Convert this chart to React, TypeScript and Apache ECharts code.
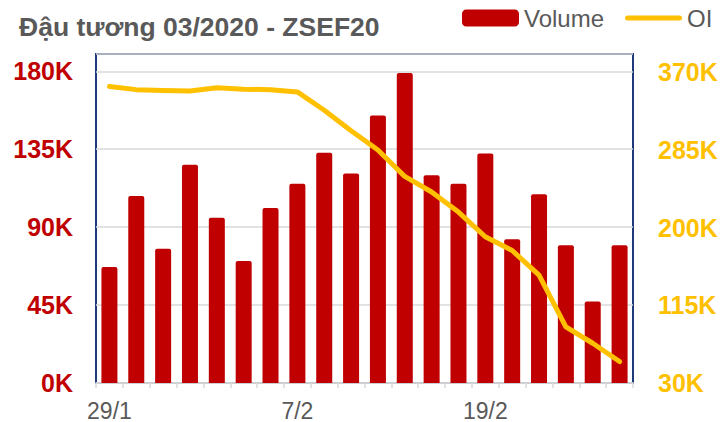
import React, { useEffect, useRef } from "react";
import * as echarts from "echarts";

const categories = [
  "29/1", "30/1", "31/1", "3/2", "4/2", "5/2", "6/2", "7/2", "10/2", "11/2",
  "12/2", "13/2", "14/2", "18/2", "19/2", "20/2", "21/2", "24/2", "25/2", "26/2",
];
const volume = [
  67000, 108000, 77500, 126000, 95500, 70500, 101000, 115000, 133000, 121000,
  154500, 179000, 120000, 115000, 132500, 83000, 109000, 79500, 47000, 79500,
];
const openInterest = [
  354500, 351000, 350000, 349500, 353000, 351500, 351000, 348500, 328500, 306000,
  285000, 256000, 239000, 217000, 190000, 175000, 148000, 91500, 73500, 53500,
];
const leftTicks = [0, 45000, 90000, 135000, 180000];
const rightTicks = [30000, 115000, 200000, 285000, 370000];
const titleText = "Đậu tương 03/2020 - ZSEF20";

const FONT = "'Liberation Sans', Arial, sans-serif";
const LINE_ICON = "path://M2.5,0 L54.5,0 A2.5,2.5 0 0 1 54.5,5 L2.5,5 A2.5,2.5 0 0 1 2.5,0 Z";

export default function App() {
  const ref = useRef<HTMLDivElement>(null);
  useEffect(() => {
    document.body.style.margin = "0";
    const chart = echarts.init(ref.current!, undefined, { renderer: "svg" });
    const fmtK = (v: number) => Math.round(v / 1000) + "K";
    chart.setOption({
      animation: false,
      backgroundColor: "#ffffff",
      title: {
        text: titleText,
        left: 14,
        top: 8,
        textStyle: { fontFamily: FONT, fontSize: 26.5, fontWeight: "bold", color: "#595959" },
      },
      legend: {
        left: 462,
        top: 6,
        width: 260,
        padding: 0,
        itemWidth: 57,
        itemHeight: 17,
        itemGap: 21,
        textStyle: { fontFamily: FONT, fontSize: 24, color: "#595959" },
        data: [
          { name: "Volume", icon: "roundRect", itemStyle: { color: "#C00000" } },
          { name: "OI", icon: LINE_ICON, itemStyle: { color: "#FFC000" } },
        ],
      },
      grid: {
        left: 96,
        right: 89,
        top: 54,
        bottom: 39,
        show: true,
        borderColor: "#1F3A78",
        borderWidth: 2,
        containLabel: false,
      },
      xAxis: {
        type: "category",
        data: categories,
        boundaryGap: true,
        axisLine: { show: true, lineStyle: { color: "#d9d9d9", width: 1.5 } },
        axisTick: { show: true, interval: 0, length: 5, lineStyle: { color: "#d9d9d9", width: 1.5 } },
        axisLabel: {
          interval: 6,
          margin: 16,
          fontFamily: FONT,
          fontSize: 23,
          color: "#595959",
        },
      },
      yAxis: [
        {
          type: "value",
          min: 0,
          max: 190000,
          interval: 45000,
          axisLine: { show: false },
          axisTick: { show: false },
          splitLine: { show: true, lineStyle: { color: "#d9d9d9", width: 1.5 } },
          axisLabel: {
            margin: 23,
            fontFamily: FONT,
            fontSize: 25,
            fontWeight: "bold",
            color: "#C00000",
            formatter: (v: number) => (leftTicks.includes(v) ? fmtK(v) : ""),
          },
        },
        {
          type: "value",
          min: 30000,
          max: 390000,
          interval: 85000,
          position: "right",
          axisLine: { show: false },
          axisTick: { show: false },
          splitLine: { show: false },
          axisLabel: {
            margin: 25,
            fontFamily: FONT,
            fontSize: 25,
            fontWeight: "bold",
            color: "#FFC000",
            formatter: (v: number) => (rightTicks.includes(v) ? fmtK(v) : ""),
          },
        },
      ],
      series: [
        {
          name: "Volume",
          type: "bar",
          yAxisIndex: 0,
          data: volume,
          barWidth: 16,
          itemStyle: { color: "#C00000", borderRadius: [2, 2, 0, 0] },
        },
        {
          name: "OI",
          type: "line",
          yAxisIndex: 1,
          data: openInterest,
          symbol: "none",
          color: "#FFC000",
          lineStyle: { color: "#FFC000", width: 5, cap: "round", join: "round" },
        },
      ],
    });
    return () => chart.dispose();
  }, []);
  return <div ref={ref} style={{ width: 722, height: 422 }} />;
}
